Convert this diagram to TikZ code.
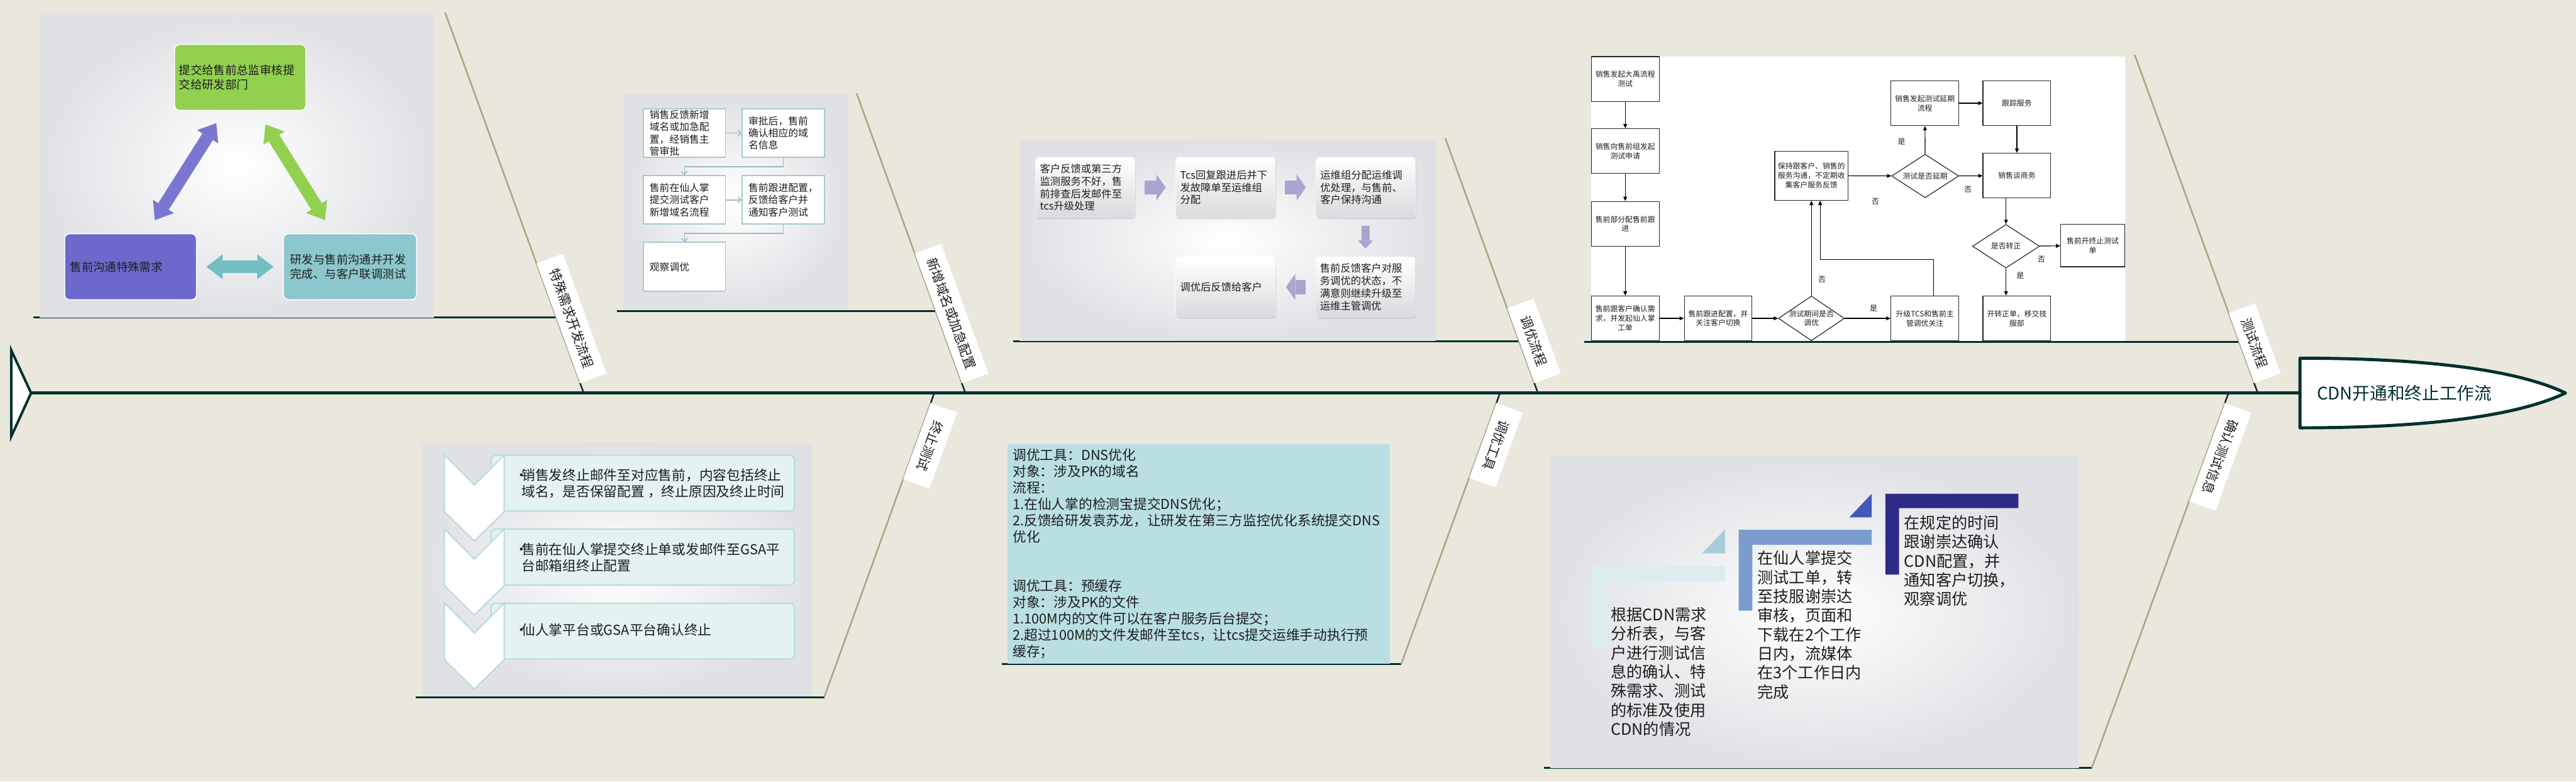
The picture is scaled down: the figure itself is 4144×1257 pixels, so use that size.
\documentclass[tikz,border=0pt]{standalone}
\usepackage{fontspec}
\setmainfont{Noto Sans CJK SC}
\usetikzlibrary{arrows.meta,shapes.geometric,calc,shadows}
\newcommand\setfs[2]{\fontsize{#1pt}{#2pt}\selectfont}
\definecolor{bgc}{HTML}{EAE8DC}
\definecolor{dk}{HTML}{00312F}
\definecolor{olv}{HTML}{A8A484}
\definecolor{pang}{HTML}{E0E1E5}
\definecolor{gA}{HTML}{92D050}
\definecolor{puA}{HTML}{6C68CC}
\definecolor{puB}{HTML}{7B77D0}
\definecolor{tlA}{HTML}{8CC7CD}
\definecolor{tlB}{HTML}{74BFC4}
\definecolor{p2b}{HTML}{A6CACE}
\definecolor{p2a}{HTML}{9CBBBF}
\definecolor{p3g}{HTML}{DADADE}
\definecolor{lav}{HTML}{A8A6CE}
\definecolor{p5b}{HTML}{B5DCDD}
\definecolor{p5f}{HTML}{E4F2F2}
\definecolor{p6f}{HTML}{B9DFE2}
\definecolor{c7a}{HTML}{DCEDF0}
\definecolor{c7at}{HTML}{A7CDDA}
\definecolor{c7b}{HTML}{7A9DCE}
\definecolor{c7bt}{HTML}{4558BA}
\definecolor{c7c}{HTML}{2E2B88}
\definecolor{txt}{HTML}{1E1E1E}
\begin{document}
\begin{tikzpicture}[x=1pt,y=-1pt,
  every node/.style={text=txt},
  spine/.style={draw=dk, line width=4.5pt},
  ribol/.style={draw=olv, line width=2.5pt},
  ribdk/.style={draw=dk, line width=2.5pt},
  shelf/.style={draw=dk, line width=3pt},
  toplab/.style={fill=white, inner sep=0pt, minimum height=45pt, rotate=-70, anchor=south west, font=\setfs{21}{24}},
  botlab/.style={fill=white, inner sep=0pt, minimum height=45pt, rotate=-110, anchor=south west, font=\setfs{21}{24}},
  p1box/.style={rounded corners=8pt, draw=white, line width=1.5pt, minimum height=106pt, align=left, inner sep=0pt, font=\setfs{18.6}{23}},
  barrow/.style={line width=20pt, {Triangle[width=40pt,length=26pt,line width=0pt]}-{Triangle[width=40pt,length=26pt,line width=0pt]}},
  p2box/.style={draw=p2b, line width=2pt, fill=white, minimum width=132pt, minimum height=78pt, text width=112pt, align=left, inner sep=0pt, font=\setfs{16}{19.6}},
  p2arr/.style={draw=p2a, line width=1.5pt, -{Straight Barb[length=5pt,width=10pt]}},
  p3box/.style={rounded corners=6pt, top color=white, bottom color=p3g, draw=white, minimum width=160pt, minimum height=97pt, text width=146pt, align=left, inner sep=0pt, font=\setfs{16.5}{20}, drop shadow={shadow xshift=1pt, shadow yshift=-2.5pt, opacity=0.25}},
  blkh/.style={draw=lav, line width=23pt, -{Triangle[width=42pt,length=15pt,line width=0pt]}},
  blkv/.style={draw=lav, line width=13pt, -{Triangle[width=24pt,length=13pt,line width=0pt]}},
  fbox/.style={draw=black!85, line width=1.2pt, fill=white, minimum width=109pt, minimum height=72pt, text width=104pt, align=center, inner sep=0pt, font=\setfs{12}{15}},
  fdia/.style={diamond, draw=black!85, line width=1.2pt, fill=white, minimum width=106pt, minimum height=72pt, inner sep=0pt},
  dtext/.style={align=center, font=\setfs{12}{15}, inner sep=0pt},
  farr/.style={draw=black, line width=1.2pt, -{Triangle[length=7pt,width=6pt]}},
  ylab/.style={font=\setfs{12}{14}, inner sep=0pt},
  p5txt/.style={align=left, anchor=west, inner sep=0pt, font=\setfs{22}{26}},
  chev/.style={fill=white, draw=p5b, line width=2pt, line join=miter},
  p5rect/.style={fill=p5f, draw=p5b, line width=2pt, rounded corners=8pt},
  p7txt/.style={align=left, anchor=west, inner sep=0pt, font=\setfs{25.5}{30.7}}
]
% background
\fill[bgc] (0,0) rectangle (4144,1257);
\useasboundingbox (0,0) rectangle (4144,1257);

% ---------- rib coordinates ----------
\coordinate (S1) at (939,632);  \coordinate (T1) at (716,20);
\coordinate (S2) at (1553,632); \coordinate (T2) at (1378,150);
\coordinate (S3) at (2474,632); \coordinate (T3) at (2325,222);
\coordinate (S4) at (3632,632); \coordinate (T4) at (3434,88);
\coordinate (S5) at (1503,632); \coordinate (E5) at (1326,1121);
\coordinate (S6) at (2413,632); \coordinate (E6) at (2254,1068);
\coordinate (S7) at (3585,632); \coordinate (E7) at (3365,1235);

% ---------- shelves ----------
\coordinate (H1) at (54,510);   \coordinate (H1e) at (894.5,510);
\coordinate (H2) at (992,500);  \coordinate (H2e) at (1505,500);
\coordinate (H3) at (1630,549); \coordinate (H3e) at (2444,549);
\coordinate (H4) at (2548,550); \coordinate (H4e) at (3602,550);
\coordinate (H5) at (669,1121);
\coordinate (H6) at (1612,1068);
\coordinate (H7) at (2484,1235);
\draw[shelf] (H1) -- (H1e);
\draw[shelf] (H2) -- (H2e);
\draw[shelf] (H3) -- (H3e);
\draw[shelf] (H4) -- (H4e);
\draw[shelf] (H5) -- (E5);
\draw[shelf] (H6) -- (E6);
\draw[shelf] (H7) -- (E7);

% ---------- panel 1 ----------
\shade[inner color=white, outer color=pang] (64,22) rectangle (698,510);
\node[p1box, fill=gA, minimum width=211pt, text width=197pt] (P1a) at (386.5,124.5) {提交给售前总监审核提\\交给研发部门};
\node[p1box, fill=puA, minimum width=212pt, text width=194pt] (P1b) at (210,429) {售前沟通特殊需求};
\node[p1box, fill=tlA, minimum width=214pt, text width=192pt] (P1c) at (563,429) {研发与售前沟通并开发\\完成、与客户联调测试};
\coordinate (pu1) at (249,354); \coordinate (pu2) at (348,198);
\coordinate (gr1) at (427,200); \coordinate (gr2) at (523,354);
\coordinate (tl1) at (332,429); \coordinate (tl2) at (440,429);
\draw[barrow, draw=puB, fill=puB] (pu1) -- (pu2);
\draw[barrow, draw=gA, fill=gA] (gr1) -- (gr2);
\draw[barrow, draw=tlB, fill=tlB, line width=20pt] (tl1) -- (tl2);

% ---------- panel 2 ----------
\shade[inner color=white, outer color=pang] (1004,152) rectangle (1364,497);
\node[p2box] (B1) at (1101,214) {销售反馈新增\\域名或加急配\\置，经销售主\\管审批};
\node[p2box] (B2) at (1260,214) {审批后，售前\\确认相应的域\\名信息};
\node[p2box] (B3) at (1101,321.5) {售前在仙人掌\\提交测试客户\\新增域名流程};
\node[p2box] (B4) at (1260,321.5) {售前跟进配置，\\反馈给客户并\\通知客户测试};
\node[p2box] (B5) at (1101,429) {观察调优};
\draw[p2arr] (B1) -- (B2);
\draw[p2arr] (B2.south) -- ++(0,14) -| (B3.north);
\draw[p2arr] (B3) -- (B4);
\draw[p2arr] (B4.south) -- ++(0,14) -| (B5.north);

% ---------- panel 3 ----------
\shade[inner color=white, outer color=pang] (1640,226) rectangle (2309,548);
\node[p3box] (C1) at (1746,301.5) {客户反馈或第三方\\监测服务不好，售\\前排查后发邮件至\\tcs升级处理};
\node[p3box] (C2) at (1971.5,301.5) {Tcs回复跟进后并下\\发故障单至运维组\\分配};
\node[p3box] (C3) at (2197,301.5) {运维组分配运维调\\优处理，与售前、\\客户保持沟通};
\node[p3box] (C4) at (2196.5,461.5) {售前反馈客户对服\\务调优的状态，不\\满意则继续升级至\\运维主管调优};
\node[p3box] (C5) at (1971.5,461.5) {调优后反馈给客户};
\draw[blkh] ([xshift=15pt]C1.east) -- ([xshift=-16pt]C2.west);
\draw[blkh] ([xshift=15pt]C2.east) -- ([xshift=-16pt]C3.west);
\draw[blkv] ([yshift=-13pt]C3.south) -- ([yshift=13pt]C4.north);
\draw[blkh] ([xshift=-16pt]C4.west) -- ([xshift=17pt]C5.east);

% ---------- panel 4 (flowchart) ----------
\fill[white] (2560,91) rectangle (3419,548);
\node[fbox] (F1) at (2614.5,127) {销售发起大禹流程\\测试};
\node[fbox] (F2) at (2614.5,243) {销售向售前组发起\\测试申请};
\node[fbox] (F3) at (2614.5,360) {售前部分配售前跟\\进};
\node[fbox] (F4) at (2614.5,512) {售前跟客户确认需\\求，并发起仙人掌\\工单};
\node[fbox] (F5) at (2764,512) {售前跟进配置，并\\关注客户切换};
\node[fdia, label={[dtext]center:测试期间是否\\调优}] (D1) at (2914,512) {};
\node[fbox] (F6) at (3096.5,512) {升级TCS和售前主\\管调优关注};
\node[fbox, minimum width=118pt, minimum height=79pt, text width=112pt] (F7) at (2914,282.5) {保持跟客户、销售的\\服务沟通，不定期收\\集客户服务反馈};
\node[fdia, minimum width=108pt, minimum height=70pt, label={[dtext]center:测试是否延期}] (D2) at (3097,283) {};
\node[fbox] (F8) at (3096.5,166) {销售发起测试延期\\流程};
\node[fbox] (F9) at (3244.5,166) {跟踪服务};
\node[fbox] (F10) at (3244.5,282.5) {销售谈商务};
\node[fdia, minimum width=108pt, minimum height=70pt, label={[dtext]center:是否转正}] (D3) at (3227,396) {};
\node[fbox, minimum width=103pt, minimum height=68pt, text width=98pt] (F11) at (3366.5,395) {售前开终止测试\\单};
\node[fbox] (F12) at (3244.5,512) {开转正单，移交技\\服部};
\draw[farr] (F1) -- (F2);
\draw[farr] (F2) -- (F3);
\draw[farr] (F3) -- (F4);
\draw[farr] (F4) -- (F5);
\draw[farr] (F5) -- (D1);
\draw[farr] (D1) -- (F6);
\draw[farr] (D1) -- (F7);
\draw[farr] ([xshift=14pt]F6.north) -- ++(0,-58) -| ([xshift=14pt]F7.south);
\draw[farr] (F7) -- (D2);
\draw[farr] (D2) -- (F10);
\draw[farr] (D2) -- (F8);
\draw[farr] (F8) -- (F9);
\draw[farr] (F9) -- (F10);
\draw[farr] (F10.south -| D3.north) -- (D3.north);
\draw[farr] (D3) -- (F11);
\draw[farr] (D3.south) -- (D3.south |- F12.north);
\node[ylab] (y1) at (3014,496) {是};
\node[ylab] (y2) at (2931,450) {否};
\node[ylab] (y3) at (3017,324) {否};
\node[ylab] (y4) at (3166,305) {否};
\node[ylab] (y5) at (3059,228) {是};
\node[ylab] (y6) at (3284,417) {否};
\node[ylab] (y7) at (3250,443) {是};

% ---------- panel 5 ----------
\shade[inner color=white, outer color=pang] (680,713) rectangle (1306,1119);
\foreach \yy in {732,851,970}{
  \draw[p5rect] (790,\yy) rectangle (1278,\yy+90);
}
\foreach \yy in {732,851,970}{
  \draw[chev] (715,\yy) -- (763,\yy+48) -- (811,\yy) -- (811,\yy+91) -- (763,\yy+138) -- (715,\yy+91) -- cycle;
}
\node[p5txt] (R1) at (828,777.5) {\makebox[11pt][l]{•}销售发终止邮件至对应售前，内容包括终止\\\makebox[11pt][l]{}域名，是否保留配置 ，终止原因及终止时间};
\node[p5txt] (R2) at (828,896.5) {\makebox[11pt][l]{•}售前在仙人掌提交终止单或发邮件至GSA平\\\makebox[11pt][l]{}台邮箱组终止配置};
\node[p5txt] (R3) at (828,1013) {\makebox[11pt][l]{•}仙人掌平台或GSA平台确认终止};

% ---------- panel 6 ----------
\fill[p6f] (1621,714) rectangle (2236,1067);
\node[align=left, anchor=west, inner sep=0pt, font=\setfs{22}{26.3}] (T6) at (1629,890) {调优工具：DNS优化\\对象：涉及PK的域名\\流程：\\1.在仙人掌的检测宝提交DNS优化；\\2.反馈给研发袁苏龙，让研发在第三方监控优化系统提交DNS\\优化\\[52.6pt]调优工具：预缓存\\对象：涉及PK的文件\\1.100M内的文件可以在客户服务后台提交；\\2.超过100M的文件发邮件至tcs，让tcs提交运维手动执行预\\缓存；};

% ---------- panel 7 ----------
\shade[inner color=white, outer color=pang] (2494,733) rectangle (3344,1235);
\fill[c7a] (2561,911) -- (2775,911) -- (2775,935) -- (2584,935) -- (2584,1041) -- (2561,1041) -- cycle;
\fill[c7at] (2738,890) -- (2775,851) -- (2775,890) -- cycle;
\fill[c7b] (2797,852) -- (3011,852) -- (3011,876) -- (2819,876) -- (2819,982) -- (2797,982) -- cycle;
\fill[c7bt] (2975,832) -- (3011,794) -- (3011,832) -- cycle;
\fill[c7c] (3033,794) -- (3247,794) -- (3247,817) -- (3055,817) -- (3055,924) -- (3033,924) -- cycle;
\node[p7txt] (A7) at (2591,1080.5) {根据CDN需求\\分析表，与客\\户进行测试信\\息的确认、特\\殊需求、测试\\的标准及使用\\CDN的情况};
\node[p7txt] (B7) at (2827,1005) {在仙人掌提交\\测试工单，转\\至技服谢崇达\\审核，页面和\\下载在2个工作\\日内，流媒体\\在3个工作日内\\完成};
\node[p7txt] (C7) at (3063,902) {在规定的时间\\跟谢崇达确认\\CDN配置，并\\通知客户切换，\\观察调优};

% ---------- ribs ----------
\draw[ribol] (T1) -- ($(S1)!17pt!(T1)$);  \draw[ribdk] ($(S1)!17pt!(T1)$) -- (S1);
\draw[ribol] (T2) -- ($(S2)!17pt!(T2)$);  \draw[ribdk] ($(S2)!17pt!(T2)$) -- (S2);
\draw[ribol] (T3) -- ($(S3)!17pt!(T3)$);  \draw[ribdk] ($(S3)!17pt!(T3)$) -- (S3);
\draw[ribol] (T4) -- ($(S4)!17pt!(T4)$);  \draw[ribdk] ($(S4)!17pt!(T4)$) -- (S4);
\draw[ribdk] (S5) -- ($(S5)!17pt!(E5)$);  \draw[ribol] ($(S5)!17pt!(E5)$) -- (E5);
\draw[ribdk] (S6) -- ($(S6)!17pt!(E6)$);  \draw[ribol] ($(S6)!17pt!(E6)$) -- (E6);
\draw[ribdk] (S7) -- ($(S7)!17pt!(E7)$);  \draw[ribol] ($(S7)!17pt!(E7)$) -- (E7);

\node[toplab, minimum width=205pt] (L1) at ($(S1)!222pt!(T1)$) {特殊需求开发流程};
\node[toplab, minimum width=222pt] (L2) at ($(S2)!239pt!(T2)$) {新增域名或加急配置};
\node[toplab, minimum width=128pt] (L3) at ($(S3)!145pt!(T3)$) {调优流程};
\node[toplab, minimum width=120pt] (L4) at ($(S4)!137pt!(T4)$) {测试流程};
\node[botlab, minimum width=130pt] (L5) at ($(S5)!17pt!(E5)$) {终止测试};
\node[botlab, minimum width=128pt] (L6) at ($(S6)!17pt!(E6)$) {调优工具};
\node[botlab, minimum width=168pt] (L7) at ($(S7)!17pt!(E7)$) {确认测试信息};

% ---------- spine, tail, head ----------
\coordinate (tailtip) at (50,632);
\coordinate (headL) at (3700,632);
\draw[spine] (tailtip) -- (headL);
\filldraw[fill=white, draw=dk, line width=4pt, line join=miter] (18,563) -- (tailtip) -- (18,702) -- cycle;
\filldraw[fill=white, draw=dk, line width=5pt, line join=round] (3700,576) .. controls (3930,576) and (4060,600) .. (4127,632) .. controls (4060,664) and (3930,688) .. (3700,688) -- cycle;
\node[font=\setfs{28}{32}, text=dk, inner sep=0pt] (title) at (3868,632) {CDN开通和终止工作流};
\end{tikzpicture}
\end{document}
